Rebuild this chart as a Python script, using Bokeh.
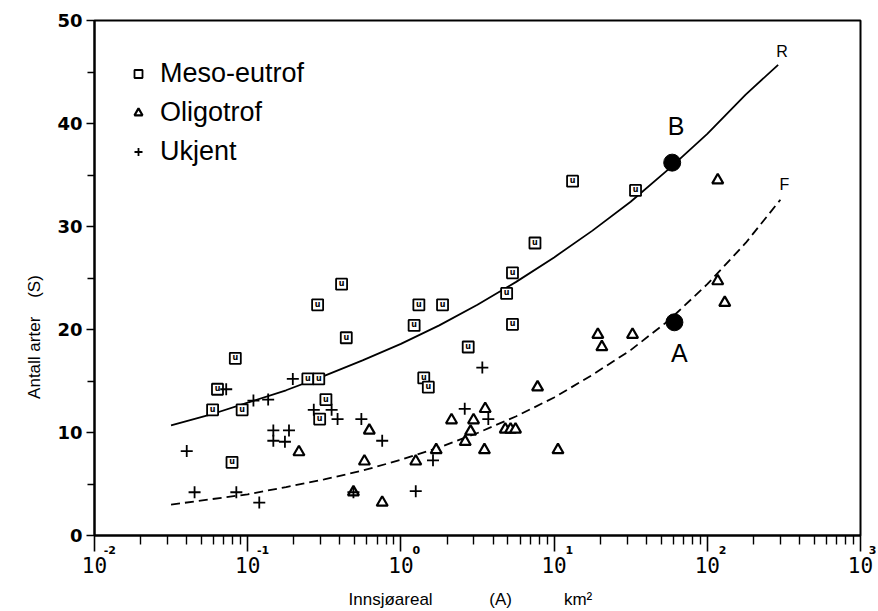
from bokeh.plotting import figure
from bokeh.models import Label, Legend, LegendItem, FixedTicker, Range1d, LogAxis
from bokeh.core.properties import value
from bokeh.embed import file_html
from bokeh.resources import INLINE

# ---------------- data ----------------
meso_area = [0.083, 0.0635, 0.059, 0.092, 0.079, 0.286, 0.41, 0.44, 0.247, 0.291,
             0.324, 0.295, 1.22, 1.31, 1.87, 1.41, 1.51, 2.75, 4.9, 5.35, 5.35,
             7.5, 13.2, 34.0]
meso_species = [17.2, 14.2, 12.2, 12.2, 7.1, 22.4, 24.4, 19.2, 15.2, 15.2,
                13.2, 11.3, 20.4, 22.4, 22.4, 15.3, 14.4, 18.3, 23.5, 25.5, 20.5,
                28.4, 34.4, 33.5]

oligo_area = [0.216, 0.622, 0.578, 0.49, 0.755, 1.25, 1.70, 2.14, 2.63, 2.85,
              2.98, 3.55, 3.51, 4.8, 5.2, 5.6, 10.6, 7.8, 19.3, 20.5, 32.5,
              117.0, 117.0, 130.0]
oligo_species = [8.1, 10.2, 7.2, 4.2, 3.2, 7.2, 8.3, 11.2, 9.1, 10.1,
                 11.2, 12.3, 8.3, 10.3, 10.3, 10.3, 8.3, 14.4, 19.5, 18.3, 19.5,
                 34.5, 24.7, 22.6]

ukjent_area = [0.0724, 0.109, 0.136, 0.197, 0.147, 0.147, 0.186, 0.175, 0.040,
               0.045, 0.0843, 0.119, 0.27, 0.353, 0.386, 0.552, 0.755, 0.49,
               1.25, 1.62, 2.61, 3.72, 3.4]
ukjent_species = [14.2, 13.1, 13.2, 15.2, 10.2, 9.2, 10.2, 9.1, 8.2,
                  4.2, 4.2, 3.2, 12.2, 12.2, 11.3, 11.3, 9.2, 4.2,
                  4.3, 7.3, 12.3, 11.3, 16.3]

curve_r_area = [0.0316, 0.0562, 0.1, 0.178, 0.316, 0.562, 1.0, 1.78, 3.16,
                5.62, 10.0, 17.8, 31.6, 56.2, 100.0, 178.0, 290.0]
curve_r_species = [10.7, 11.7, 12.9, 14.1, 15.5, 17.0, 18.6, 20.4, 22.4,
                   24.6, 27.0, 29.6, 32.4, 35.6, 39.0, 42.8, 45.7]

curve_f_area = [0.0316, 0.0562, 0.1, 0.178, 0.316, 0.562, 1.0, 1.78, 3.16,
                5.62, 10.0, 17.8, 31.6, 56.2, 100.0, 178.0, 300.0]
curve_f_species = [3.0, 3.5, 4.0, 4.7, 5.45, 6.3, 7.35, 8.55, 9.95,
                   11.55, 13.4, 15.6, 18.0, 20.9, 24.4, 28.4, 32.6]

ref_area = [61.0, 59.0]
ref_species = [20.7, 36.2]
ref_labels = ["A", "B"]

curve_labels = ["R", "F"]

x_decades = [0.01, 0.1, 1.0, 10.0, 100.0, 1000.0]
x_base_label = "10"
x_exponents = ["-2", "-1", "0", "1", "2", "3"]
y_ticks = [0, 10, 20, 30, 40, 50]
y_minor = [5, 15, 25, 35, 45]

NB = "\u00a0"

# ---------------- figure ----------------
p = figure(width=876, height=611, x_axis_type="log",
           x_range=Range1d(0.01, 1000), y_range=Range1d(0, 50),
           output_backend="svg", toolbar_location=None,
           min_border_left=94, min_border_right=16,
           min_border_top=20, min_border_bottom=76)

p.background_fill_color = "white"
p.border_fill_color = "white"
p.outline_line_color = "black"
p.outline_line_width = 2
p.xgrid.visible = False
p.ygrid.visible = False

minor_x = [k * d for d in x_decades[:-1] for k in range(2, 10)]
xticker = FixedTicker(ticks=x_decades, minor_ticks=minor_x)
p.xaxis.ticker = xticker
p.yaxis.ticker = FixedTicker(ticks=y_ticks, minor_ticks=y_minor)

for ax in (p.xaxis, p.yaxis):
    ax.axis_line_color = "black"
    ax.axis_line_width = 2
    ax.major_tick_line_color = "black"
    ax.minor_tick_line_color = "black"
    ax.major_tick_line_width = 1.6
    ax.minor_tick_line_width = 1.4
    ax.major_tick_in = 0
    ax.minor_tick_in = 0
    ax.major_label_text_color = "black"
    ax.axis_label_text_color = "black"

# main x axis: ticks + raised exponents
p.xaxis.major_tick_out = 16
p.xaxis.minor_tick_out = 9
p.xaxis.major_label_overrides = {d: NB * 8 + e for d, e in zip(x_decades, x_exponents)}
p.xaxis.major_label_text_font = "DejaVu Sans"
p.xaxis.major_label_text_font_style = "bold"
p.xaxis.major_label_text_font_size = "11px"
p.xaxis.major_label_standoff = -8

# second x axis: the "10" bases and the axis title
ax2 = LogAxis(ticker=xticker)
ax2.axis_line_alpha = 0
ax2.major_tick_line_alpha = 0
ax2.minor_tick_line_alpha = 0
ax2.major_tick_out = 0
ax2.minor_tick_out = 0
ax2.major_tick_in = 0
ax2.minor_tick_in = 0
ax2.major_label_overrides = {d: x_base_label for d in x_decades}
ax2.major_label_text_font = "DejaVu Sans Mono"
ax2.major_label_text_font_size = "21px"
ax2.major_label_text_color = "black"
ax2.major_label_standoff = -3
ax2.axis_label = ("Innsj\u00f8areal" + NB * 12 + "(A)" + NB * 11 + "km\u00b2" + NB * 3)
ax2.axis_label_text_font = "Liberation Sans"
ax2.axis_label_text_font_style = "normal"
ax2.axis_label_text_font_size = "17px"
ax2.axis_label_text_color = "black"
ax2.axis_label_standoff = 14
p.add_layout(ax2, "below")

p.yaxis.major_tick_out = 8
p.yaxis.minor_tick_out = 7
p.yaxis.major_label_text_font = "DejaVu Sans"
p.yaxis.major_label_text_font_style = "bold"
p.yaxis.major_label_text_font_size = "18px"
p.yaxis.major_label_standoff = 4
p.yaxis.axis_label = "Antall arter" + NB * 4 + "(S)" + NB * 25
p.yaxis.axis_label_text_font = "Liberation Sans"
p.yaxis.axis_label_text_font_style = "normal"
p.yaxis.axis_label_text_font_size = "17px"
p.yaxis.axis_label_standoff = 10

# curves
p.line(curve_r_area, curve_r_species, line_color="black", line_width=1.8)
p.line(curve_f_area, curve_f_species, line_color="black", line_width=1.8,
       line_dash="9 5")

# data points
r_meso = p.scatter(meso_area, meso_species, marker="square", size=11,
                   line_color="black", line_width=1.8, fill_color="white")
p.text(meso_area, meso_species, text=value("u"), text_align="center",
       text_baseline="middle", text_font=value("DejaVu Sans"),
       text_font_style="bold", text_font_size=value("8px"), text_color="black",
       y_offset=-0.5)
r_oligo = p.scatter(oligo_area, oligo_species, marker="triangle", size=11,
                    line_color="black", line_width=2.2, fill_color="white")
r_ukj = p.scatter(ukjent_area, ukjent_species, marker="cross", size=12,
                  line_color="black", line_width=1.8)
p.scatter(ref_area, ref_species, marker="circle", size=17,
          line_color="black", fill_color="black")

# A / B labels
offsets = {"A": (5, -31), "B": (4, 37)}
for xa, ys, t in zip(ref_area, ref_species, ref_labels):
    dx, dy = offsets[t]
    p.add_layout(Label(x=xa, y=ys, text=t, x_offset=dx, y_offset=dy,
                       text_align="center", text_baseline="middle",
                       text_font="Liberation Sans", text_font_size="25px",
                       text_color="black"))

# R / F labels at curve ends
ends = [(curve_r_area[-1], curve_r_species[-1], 13),
        (curve_f_area[-1], curve_f_species[-1], 15)]
for (xa, ys, dy), t in zip(ends, curve_labels):
    p.add_layout(Label(x=xa, y=ys, text=t, x_offset=4, y_offset=dy,
                       text_align="center", text_baseline="middle",
                       text_font="Liberation Sans", text_font_size="16px",
                       text_color="black"))

legend = Legend(items=[LegendItem(label="Meso-eutrof", renderers=[r_meso]),
                       LegendItem(label="Oligotrof", renderers=[r_oligo]),
                       LegendItem(label="Ukjent", renderers=[r_ukj])],
                location="top_left", margin=34, padding=0, spacing=0,
                glyph_width=20, glyph_height=39, label_height=39,
                label_standoff=12, border_line_alpha=0,
                background_fill_alpha=0,
                label_text_font="Liberation Sans", label_text_font_size="27px",
                label_text_color="black")
p.add_layout(legend)

open("out.html", "w").write(file_html(p, INLINE))
